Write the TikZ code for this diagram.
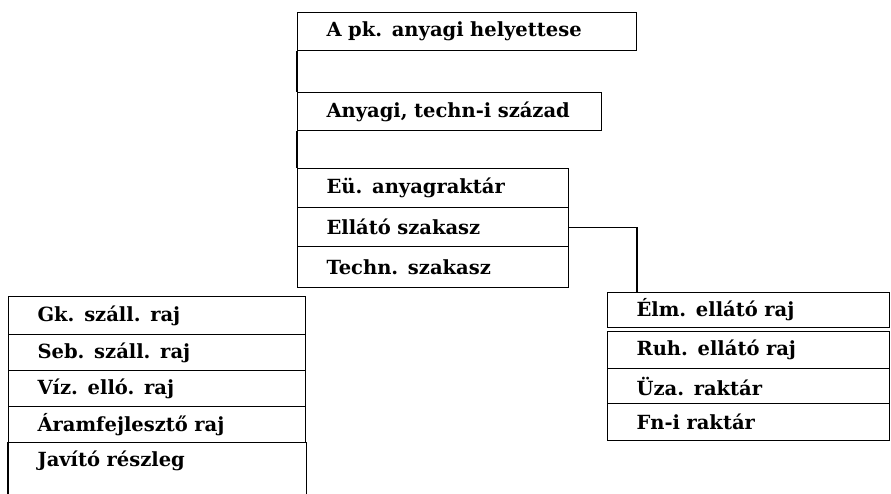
\documentclass[tikz,border=0pt]{standalone}
\usepackage{fontspec}
\setmainfont{DejaVu Serif}
\usetikzlibrary{positioning}

\begin{document}
\begin{tikzpicture}[x=1pt, y=-1pt, line width=1.1pt,
        unit/.style={draw, anchor=north west, inner sep=0pt, inner xsep=29pt,
            align=left, font=\fontsize{19.5}{22}\selectfont\bfseries}]
        \clip (0,0) rectangle (891,493);
        % upper column
        \node[unit, text width=281pt, minimum height=38pt] (Helyettes) at (297,12) {
            \mbox{A pk. anyagi helyettese}
        };
        \node[unit, text width=246pt, minimum height=38pt] (Szazad) at (297,92) {
            \mbox{Anyagi, techn-i század}
        };
        \node[unit, text width=213pt, minimum height=39pt] (Anyagraktar) at (297,168) {
            Eü. anyagraktár
        };
        \node[unit, text width=213pt, minimum height=39pt] (Ellato) at (297,207) {
            Ellátó szakasz
        };
        \node[unit, text width=213pt, minimum height=41pt] (Techn) at (297,246) {
            Techn. szakasz
        };
        % left column
        \node[unit, text width=239pt, minimum height=38pt] (Gk) at (8,296) {
            Gk. száll. raj
        };
        \node[unit, text width=239pt, minimum height=36pt] (Seb) at (8,334) {
            Seb. száll. raj
        };
        \node[unit, text width=239pt, minimum height=36pt] (Viz) at (8,370) {
            Víz. elló. raj
        };
        \node[unit, text width=239pt, minimum height=36pt] (Aram) at (8,406) {
            Áramfejlesztő raj
        };
        \node[unit, draw=none, text width=239pt, minimum height=36pt] (Javito) at (8,442) {
            Javító részleg
        };
        % right column
        \node[unit, text width=224pt, minimum height=35pt] (Elm) at (607,292) {
            Élm. ellátó raj
        };
        \node[unit, text width=224pt, minimum height=37pt] (Ruh) at (607,331) {
            Ruh. ellátó raj
        };
        \node[unit, text width=224pt, minimum height=35pt] (Uza) at (607,368) {
            Üza. raktár
        };
        \node[unit, text width=224pt, minimum height=37pt] (Fn) at (607,403) {
            Fn-i raktár
        };
        \draw (Javito.north west) -- ++(0,60);
        \draw (Javito.north east) -- ++(0,60);
        \draw (Helyettes.south west) -- (Szazad.north west);
        \draw (Szazad.south west) -- (Anyagraktar.north west);
        \draw (Ellato.east) -| ([xshift=30pt]Elm.north west);
    \end{tikzpicture}
\end{document}
